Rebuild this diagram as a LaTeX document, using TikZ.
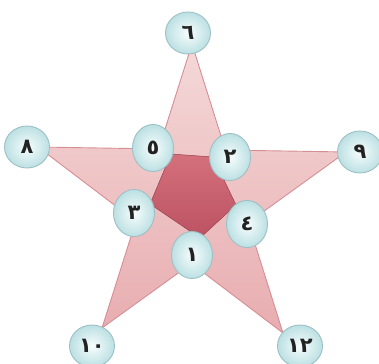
\documentclass[tikz,border=0pt]{standalone}
\usepackage{fontspec}
\newfontfamily\arabicfont[Script=Arabic]{DejaVu Sans}
\usetikzlibrary{shapes.geometric}
\definecolor{armfillA}{HTML}{F4D8D8}
\definecolor{armfillB}{HTML}{E8ADB0}
\definecolor{armline}{HTML}{D68E95}
\definecolor{coreA}{HTML}{D4707C}
\definecolor{coreB}{HTML}{BC5262}
\definecolor{ballin}{HTML}{F7FDFD}
\definecolor{ballout}{HTML}{BCE0E3}
\definecolor{ballline}{HTML}{9CC0C5}
\definecolor{digit}{HTML}{222222}
\begin{document}
\begin{tikzpicture}[x=1pt,y=-1pt,
  ball/.style={ellipse, minimum width=45pt, minimum height=42pt, inner sep=0pt,
    draw=ballline, line width=0.9pt, shading=radial, inner color=ballin, outer color=ballout,
    font=\arabicfont\bfseries\fontsize{21}{21}\selectfont, text=digit},
  innerball/.style={ball, minimum width=41pt, minimum height=47pt},
  starshape/.style={draw=armline, line width=0.9pt, top color=armfillA, bottom color=armfillB, line join=round},
  coreshape/.style={draw=coreB!80!black, line width=0.5pt, top color=coreA, bottom color=coreB, line join=round}]
\useasboundingbox (0,0) rectangle (379,363);
% star tips
\coordinate (T) at (192,44);
\coordinate (L) at (38,147);
\coordinate (R) at (346,152);
\coordinate (BL) at (102,328);
\coordinate (BR) at (283,333);
% inner vertices
\coordinate (UL) at (intersection of T--BL and L--R);
\coordinate (UR) at (intersection of T--BR and L--R);
\coordinate (RI) at (intersection of T--BR and R--BL);
\coordinate (BI) at (intersection of L--BR and R--BL);
\coordinate (LI) at (intersection of L--BR and T--BL);
\draw[starshape] (T) -- (UR) -- (R) -- (RI) -- (BR) -- (BI) -- (BL) -- (LI) -- (L) -- (UL) -- cycle;
% dark core pentagon
\coordinate (P1) at (171,154);
\coordinate (P2) at (213,157);
\coordinate (P3) at (236,205);
\coordinate (P4) at (200,238);
\coordinate (P5) at (150,204);
\draw[coreshape] (P1) -- (P2) -- (P3) -- (P4) -- (P5) -- cycle;
% balls
\node[ball] (n6) at (188,33) {٦};
\node[ball] (n8) at (27,147) {٨};
\node[ball] (n9) at (360,152) {٩};
\node[ball] (n10) at (92,346) {١٠};
\node[ball] (n12) at (300,346) {١٢};
\node[innerball] (n5) at (153,148) {٥};
\node[innerball] (n2) at (230,157) {٢};
\node[innerball] (n3) at (134,213) {٣};
\node[innerball] (n4) at (247,224) {٤};
\node[innerball] (n1) at (192,255) {١};
\end{tikzpicture}
\end{document}
